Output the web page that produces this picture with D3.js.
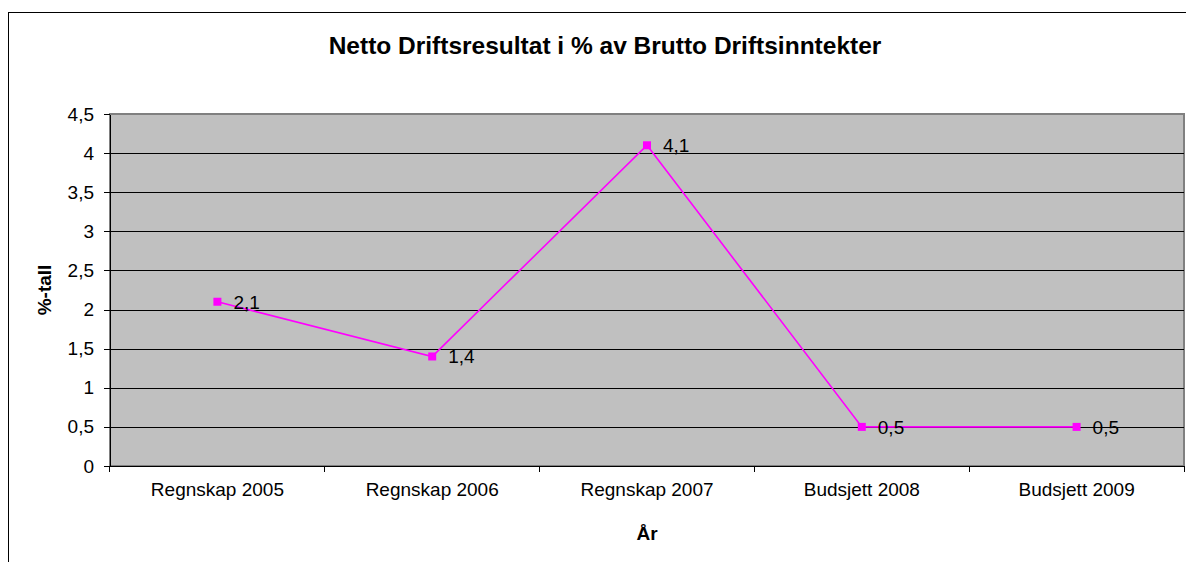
<!DOCTYPE html>
<html>
  <head>
    <meta charset="utf-8">
    <title>Netto Driftsresultat</title>
    <style>
      body { margin: 0; background: #fff; }
      svg text { font-family: Arial, "Liberation Sans", sans-serif; fill: #000; }
      .axis text { font-size: 19px; }
      .axis path, .axis line { stroke: #000; shape-rendering: crispEdges; }
      .grid line { stroke: #000; shape-rendering: crispEdges; }
    </style>
  </head>
  <body>
  <svg id="chart"></svg>
  <script src="https://d3js.org/d3.v7.min.js"></script>
  <script>
    // chart values
    var categories = ["Regnskap 2005", "Regnskap 2006", "Regnskap 2007", "Budsjett 2008", "Budsjett 2009"];
    var values = [2.1, 1.4, 4.1, 0.5, 0.5];
    var yTicks = [0, 0.5, 1, 1.5, 2, 2.5, 3, 3.5, 4, 4.5];

    var W = 1186, H = 562;
    var plot = {left: 110, top: 114, right: 1184, bottom: 466};

    var svg = d3.select("#chart").attr("width", W).attr("height", H);

    // outer chart frame (runs off the right and bottom edges)
    svg.append("rect")
      .attr("x", 8.5).attr("y", 12.5)
      .attr("width", 1220).attr("height", 600)
      .attr("fill", "#fff").attr("stroke", "#000").attr("stroke-width", 1);

    var x = d3.scaleBand().domain(categories).range([plot.left, plot.right]);
    var y = d3.scaleLinear().domain([0, 4.5]).range([plot.bottom, plot.top]);
    var fmt = function(d) { return String(d).replace(".", ","); };

    // plot background
    svg.append("rect")
      .attr("x", plot.left).attr("y", plot.top)
      .attr("width", plot.right - plot.left).attr("height", plot.bottom - plot.top)
      .attr("fill", "#c0c0c0").attr("stroke", "#808080").attr("stroke-width", 2);

    // gridlines
    svg.append("g").attr("class", "grid")
      .selectAll("line").data(yTicks.filter(function(d) { return d > 0 && d < 4.5; }))
      .enter().append("line")
      .attr("x1", plot.left).attr("x2", plot.right)
      .attr("y1", function(d) { return Math.round(y(d)) + 0.5; })
      .attr("y2", function(d) { return Math.round(y(d)) + 0.5; });

    // y axis
    svg.append("g").attr("class", "axis")
      .attr("transform", "translate(" + plot.left + ",0)")
      .call(d3.axisLeft(y).tickValues(yTicks).tickFormat(fmt).tickSize(6).tickSizeOuter(0).tickPadding(10));

    // x axis with ticks between categories
    var xAxis = svg.append("g").attr("class", "axis")
      .attr("transform", "translate(0," + plot.bottom + ")")
      .call(d3.axisBottom(x).tickSize(0).tickPadding(17));
    xAxis.selectAll(".tick").append("line")
      .attr("x1", -x.bandwidth() / 2).attr("x2", -x.bandwidth() / 2)
      .attr("y1", 0).attr("y2", 6);
    xAxis.append("line")
      .attr("x1", plot.right).attr("x2", plot.right)
      .attr("y1", 0).attr("y2", 6);

    var cx = function(d, i) { return x(categories[i]) + x.bandwidth() / 2; };

    // line
    svg.append("path")
      .datum(values)
      .attr("fill", "none")
      .attr("stroke", "#ff00ff")
      .attr("stroke-width", 1.6)
      .attr("d", d3.line().x(cx).y(function(d) { return y(d); }));

    // markers
    svg.selectAll(".marker").data(values).enter().append("rect")
      .attr("class", "marker")
      .attr("x", function(d, i) { return cx(d, i) - 4; })
      .attr("y", function(d) { return y(d) - 4; })
      .attr("width", 8).attr("height", 8)
      .attr("fill", "#ff00ff");

    // data labels
    svg.selectAll(".lbl").data(values).enter().append("text")
      .attr("class", "lbl")
      .attr("x", function(d, i) { return cx(d, i) + 16; })
      .attr("y", function(d) { return y(d) + 7; })
      .style("font-size", "19px")
      .text(fmt);

    // title
    svg.append("text")
      .attr("x", 605).attr("y", 54)
      .attr("text-anchor", "middle")
      .style("font-size", "24.5px").style("font-weight", "bold")
      .text("Netto Driftsresultat i % av Brutto Driftsinntekter");

    // axis titles
    svg.append("text")
      .attr("x", 647).attr("y", 540)
      .attr("text-anchor", "middle")
      .style("font-size", "19px").style("font-weight", "bold")
      .text("År");

    svg.append("text")
      .attr("transform", "translate(51," + (plot.top + plot.bottom) / 2 + ") rotate(-90)")
      .attr("text-anchor", "middle")
      .style("font-size", "19px").style("font-weight", "bold")
      .text("%-tall");
  </script>
  </body>
</html>
